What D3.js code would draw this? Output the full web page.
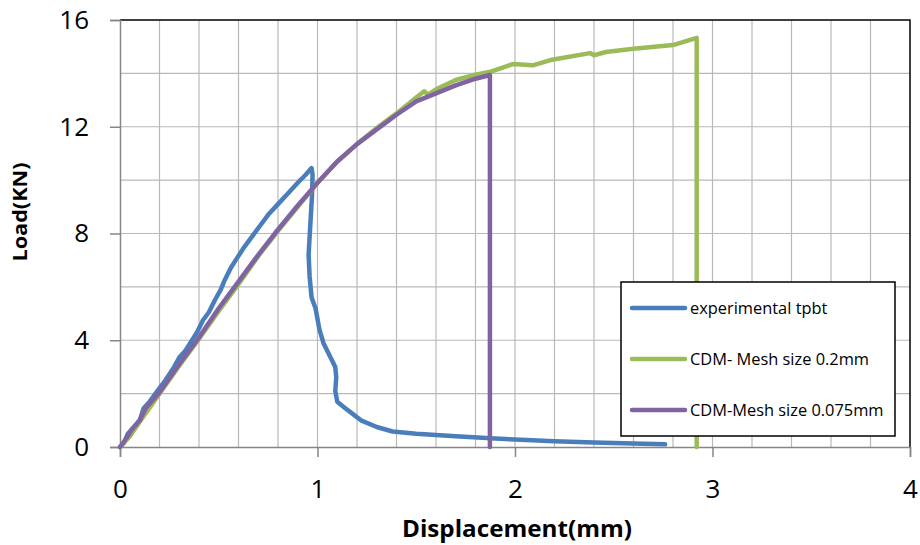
<!DOCTYPE html>
<html>
<head>
<meta charset="utf-8">
<script src="https://cdn.jsdelivr.net/npm/d3@7"></script>
<style>
  body { margin: 0; background: #fff; }
  svg { font-family: "Open Sans", "Noto Sans", sans-serif; }
</style>
</head>
<body>
<svg id="chart" width="920" height="545"></svg>
<script>
// series: [displacement (mm), load (kN)]
const experimental = [
  [0, 0], [0.02, 0.15], [0.04, 0.5], [0.07, 0.75], [0.1, 1.0], [0.12, 1.45], [0.15, 1.7],
  [0.19, 2.1], [0.23, 2.5], [0.27, 2.95], [0.3, 3.35], [0.33, 3.6], [0.36, 3.95],
  [0.39, 4.3], [0.42, 4.75], [0.45, 5.05], [0.48, 5.5], [0.51, 5.9], [0.53, 6.25],
  [0.56, 6.7], [0.59, 7.05], [0.63, 7.5], [0.67, 7.9], [0.71, 8.3], [0.75, 8.7],
  [0.8, 9.1], [0.85, 9.5], [0.9, 9.9], [0.94, 10.2], [0.97, 10.45], [0.975, 10.2],
  [0.972, 9.4], [0.965, 8.5], [0.958, 7.6], [0.955, 7.2], [0.96, 6.4], [0.97, 5.6],
  [0.99, 5.2], [1.01, 4.4], [1.03, 3.9], [1.07, 3.3], [1.09, 3.0], [1.095, 2.6],
  [1.09, 2.1], [1.1, 1.7], [1.15, 1.4], [1.22, 1.0], [1.3, 0.75], [1.38, 0.58],
  [1.5, 0.5], [1.7, 0.4], [1.9, 0.32], [2.0, 0.28], [2.2, 0.22], [2.4, 0.17],
  [2.6, 0.13], [2.76, 0.1]
];
const mesh02 = [
  [0, 0], [0.05, 0.4], [0.1, 0.95], [0.2, 2.0], [0.3, 3.05], [0.4, 4.05], [0.5, 5.1],
  [0.6, 6.1], [0.7, 7.15], [0.8, 8.1], [0.9, 9.0], [1.0, 9.9], [1.1, 10.7],
  [1.2, 11.35], [1.3, 11.95], [1.4, 12.5], [1.5, 13.1], [1.54, 13.33], [1.56, 13.2],
  [1.6, 13.4], [1.7, 13.75], [1.8, 13.95], [1.87, 14.05], [1.99, 14.35], [2.09, 14.3],
  [2.18, 14.5], [2.38, 14.76], [2.4, 14.68], [2.46, 14.8], [2.6, 14.92], [2.8, 15.06],
  [2.92, 15.33], [2.92, 0]
];
const mesh0075 = [
  [0, 0], [0.03, 0.3], [0.06, 0.65], [0.1, 1.0], [0.13, 1.45], [0.2, 2.05], [0.3, 3.1],
  [0.39, 4.0], [0.5, 5.2], [0.6, 6.2], [0.7, 7.2], [0.8, 8.15], [0.9, 9.05],
  [1.0, 9.9], [1.1, 10.7], [1.2, 11.35], [1.3, 11.9], [1.4, 12.45], [1.5, 12.95],
  [1.6, 13.25], [1.7, 13.55], [1.8, 13.8], [1.873, 13.94], [1.873, 0]
];
const seriesNames = ['experimental tpbt', 'CDM- Mesh size 0.2mm', 'CDM-Mesh size 0.075mm'];
const seriesColors = ['#4a7ebb', '#9bbb59', '#8064a2'];
const xTicks = [0, 1, 2, 3, 4];
const yTicks = [0, 4, 8, 12, 16];

const svg = d3.select('#chart');
const margin = { top: 20, right: 10, bottom: 98, left: 120 };
const width = 920 - margin.left - margin.right;
const height = 545 - margin.top - margin.bottom;

const x = d3.scaleLinear().domain([0, 4]).range([0, width]);
const y = d3.scaleLinear().domain([0, 16]).range([height, 0]);

const g = svg.append('g').attr('transform', `translate(${margin.left},${margin.top})`);

// gridlines
g.append('g')
  .selectAll('line')
  .data(d3.range(1, 20).map(i => i * 0.2))
  .enter()
  .append('line')
  .attr('x1', d => x(d)).attr('x2', d => x(d))
  .attr('y1', 0).attr('y2', height)
  .attr('stroke', '#b9b9b9').attr('stroke-width', 1.2);
g.append('g')
  .selectAll('line')
  .data(d3.range(1, 8).map(i => i * 2))
  .enter()
  .append('line')
  .attr('x1', 0).attr('x2', width)
  .attr('y1', d => y(d)).attr('y2', d => y(d))
  .attr('stroke', '#b9b9b9').attr('stroke-width', 1.2);

// plot border (top/right black)
g.append('path')
  .attr('d', `M0,0H${width}V${height}`)
  .attr('fill', 'none')
  .attr('stroke', '#000')
  .attr('stroke-width', 1.5);

// axes
const xAxis = g.append('g')
  .attr('transform', `translate(0,${height})`)
  .call(d3.axisBottom(x).tickValues(xTicks).tickSize(10).tickPadding(23).tickFormat(d3.format('d')));
const yAxis = g.append('g')
  .call(d3.axisLeft(y).tickValues(yTicks).tickSize(10).tickPadding(21).tickFormat(d3.format('d')));
[xAxis, yAxis].forEach(a => {
  a.select('.domain').attr('stroke', '#868686').attr('stroke-width', 1.5);
  a.selectAll('.tick line').attr('stroke', '#868686').attr('stroke-width', 1.5);
  a.selectAll('.tick text').attr('font-size', 26).attr('fill', '#000')
    .attr('font-family', '"Open Sans", "Noto Sans", sans-serif');
});

// series
const line = d3.line().x(d => x(d[0])).y(d => y(d[1]));
[experimental, mesh02, mesh0075].forEach((data, i) => {
  g.append('path')
    .datum(data)
    .attr('d', line)
    .attr('fill', 'none')
    .attr('stroke', seriesColors[i])
    .attr('stroke-width', 4.5)
    .attr('stroke-linejoin', 'round')
    .attr('stroke-linecap', 'round');
});

// axis titles
svg.append('text')
  .attr('x', 517)
  .attr('y', 537)
  .attr('text-anchor', 'middle')
  .attr('font-size', 24)
  .attr('font-weight', 'bold')
  .attr('textLength', 230)
  .attr('lengthAdjust', 'spacingAndGlyphs')
  .text('Displacement(mm)');
svg.append('text')
  .attr('transform', 'translate(27,212) rotate(-90)')
  .attr('text-anchor', 'middle')
  .attr('font-size', 19)
  .attr('font-weight', 'bold')
  .attr('textLength', 99)
  .attr('lengthAdjust', 'spacingAndGlyphs')
  .text('Load(KN)');

// legend
const legend = svg.append('g').attr('transform', 'translate(621,282)');
legend.append('rect')
  .attr('width', 274).attr('height', 154)
  .attr('fill', '#fff').attr('stroke', '#000').attr('stroke-width', 1.5);
const item = legend.selectAll('.item')
  .data(seriesNames)
  .enter()
  .append('g')
  .attr('transform', (d, i) => `translate(0,${26 + i * 51})`);
item.append('line')
  .attr('x1', 11).attr('x2', 64)
  .attr('stroke', (d, i) => seriesColors[i])
  .attr('stroke-width', 4.5).attr('stroke-linecap', 'round');
item.append('text')
  .attr('x', 69).attr('dy', '0.35em')
  .attr('font-size', 16.4)
  .text(d => d);
</script>
</body>
</html>
